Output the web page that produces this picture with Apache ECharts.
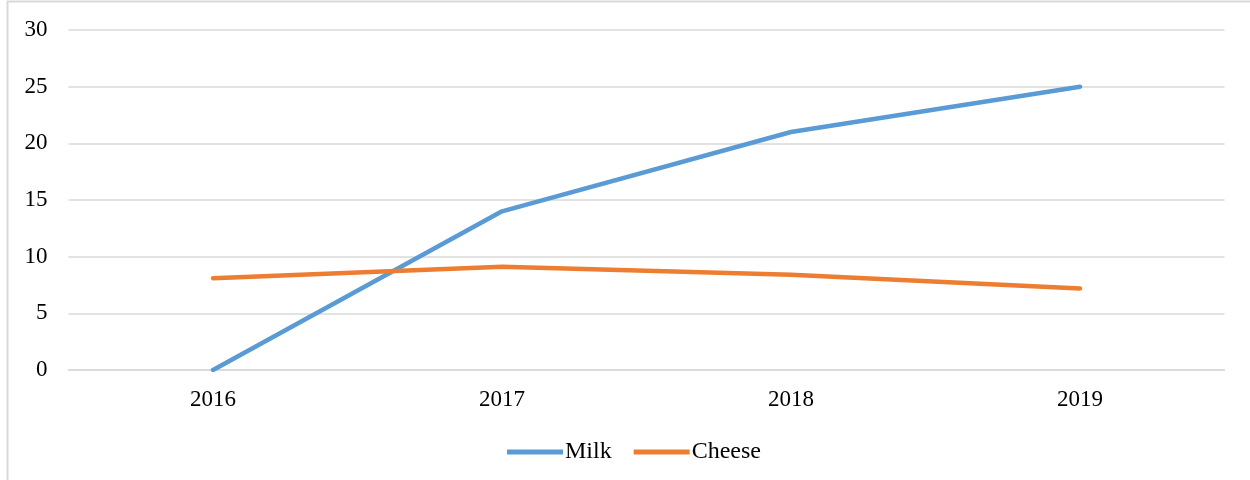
<!DOCTYPE html>
<html>
<head>
<meta charset="utf-8">
<script src="https://cdn.jsdelivr.net/npm/echarts@6/dist/echarts.min.js"></script>
<style>
html,body{margin:0;padding:0;background:#fff;}
#c{width:1250px;height:480px;}
</style>
</head>
<body>
<div id="c"></div>
<script>
const categories = ['2016', '2017', '2018', '2019'];
const milk = [0, 14, 21, 25];
const cheese = [8.1, 9.1, 8.4, 7.2];
const yTicks = {min: 0, max: 30, interval: 5};

const font = '"Liberation Serif", "Times New Roman", serif';
const chart = echarts.init(document.getElementById('c'), null, {renderer: 'canvas'});
chart.setOption({
  animation: false,
  backgroundColor: '#fff',
  graphic: [{
    type: 'rect',
    shape: {x: 7.5, y: 1.5, width: 1300, height: 500},
    style: {fill: 'none', stroke: '#d9d9d9', lineWidth: 2},
    silent: true
  }],
  grid: {left: 68.5, right: 25.5, top: 30, bottom: 110, containLabel: false},
  legend: {
    top: 440,
    left: 507,
    padding: 0,
    itemWidth: 56,
    itemHeight: 22,
    itemGap: 22,
    textStyle: {fontFamily: font, fontSize: 24, color: '#000', padding: [0, 0, 0, -3]},
    data: [
      {name: 'Milk', icon: 'path://M0,0 L56,0 L56,5 L0,5 Z'},
      {name: 'Cheese', icon: 'path://M0,0 L56,0 L56,5 L0,5 Z'}
    ]
  },
  xAxis: {
    type: 'category',
    data: categories,
    boundaryGap: true,
    axisLine: {show: true, lineStyle: {color: '#d9d9d9', width: 1.5}},
    axisTick: {show: false},
    axisLabel: {fontFamily: font, fontSize: 23, color: '#000', margin: 18}
  },
  yAxis: {
    type: 'value',
    min: yTicks.min,
    max: yTicks.max,
    interval: yTicks.interval,
    axisLine: {show: false},
    axisTick: {show: false},
    splitLine: {lineStyle: {color: '#d9d9d9', width: 1.5}},
    axisLabel: {fontFamily: font, fontSize: 23, color: '#000', margin: 21}
  },
  series: [
    {
      name: 'Milk', type: 'line', data: milk,
      symbol: 'none', color: '#5B9BD5',
      lineStyle: {width: 4.5, color: '#5B9BD5', cap: 'round', join: 'round'}
    },
    {
      name: 'Cheese', type: 'line', data: cheese,
      symbol: 'none', color: '#ED7D31',
      lineStyle: {width: 4.5, color: '#ED7D31', cap: 'round', join: 'round'}
    }
  ]
});
</script>
</body>
</html>
